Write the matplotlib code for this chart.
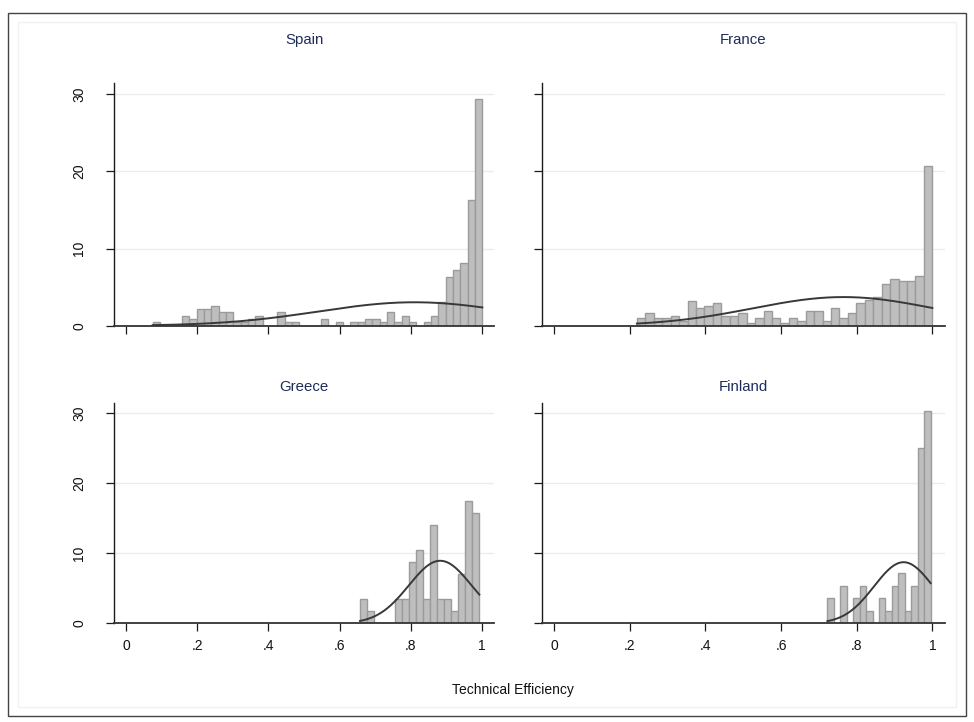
import numpy as np
import matplotlib

matplotlib.use("Agg")
import matplotlib.pyplot as plt
from matplotlib.patches import Rectangle

plt.rcParams["font.family"] = ["Liberation Sans", "DejaVu Sans"]

W, H = 974, 722

countries = ["Spain", "France", "Greece", "Finland"]

# histogram bins: first edge, bin width, percent of firms per bin
spain_start, spain_width = 0.075, 0.02056
spain_pct = [0.43, 0, 0, 0, 1.3, 0.87, 2.17, 2.17, 2.6, 1.74, 1.74, 0.43, 0.43, 0.87, 1.3,
             0, 0, 1.74, 0.43, 0.43, 0, 0, 0, 0.87, 0, 0.43, 0, 0.43, 0.43, 0.87,
             0.87, 0.43, 1.74, 0.43, 1.3, 0.43, 0, 0.43, 1.3, 3.1, 6.3, 7.2, 8.1, 16.3, 29.4]

france_start, france_width = 0.2185, 0.02233
france_pct = [0.98, 1.63, 0.98, 0.98, 1.3, 0.65, 3.25, 2.28, 2.6, 2.93, 1.3, 1.3, 1.6, 0.3,
              0.95, 1.95, 0.95, 0.3, 0.95, 0.65, 1.95, 1.95, 0.65, 2.29, 0.95, 1.6, 2.99,
              3.33, 3.68, 5.41, 6.06, 5.76, 5.76, 6.45, 20.7]

greece_start, greece_width = 0.657, 0.0197
greece_pct = [3.5, 1.75, 0, 0, 0, 3.5, 3.5, 8.8, 10.5, 3.5, 14.0, 3.5, 3.5, 1.75, 7.0, 17.5, 15.8]

finland_start, finland_width = 0.7225, 0.01706
finland_pct = [3.56, 0, 5.34, 0, 3.56, 5.34, 1.78, 0, 3.56, 1.78, 5.34, 7.14, 1.78, 5.34, 25.0, 30.3]

# normal overlay: mean and sd of technical efficiency
normal_mean = [0.81, 0.765, 0.882, 0.924]
normal_sd = [0.27, 0.24, 0.088, 0.078]

x_ticks = [0, 0.2, 0.4, 0.6, 0.8, 1.0]
x_tick_labels = ["0", ".2", ".4", ".6", ".8", "1"]
y_ticks = [0, 10, 20, 30]

hists = [
    (spain_start, spain_width, spain_pct),
    (france_start, france_width, france_pct),
    (greece_start, greece_width, greece_pct),
    (finland_start, finland_width, finland_pct),
]

# panel boxes in pixels: left, top, right, bottom
boxes = [
    (114.2, 82.7, 494.0, 325.7),
    (541.8, 82.7, 944.8, 325.7),
    (114.2, 402.7, 494.0, 623.3),
    (541.8, 402.7, 944.8, 623.3),
]
title_y = [40, 40, 387, 387]

TITLE = "#1e2d5c"
BAR_FILL = "#bebebe"
BAR_EDGE = "#9b9b9b"
CURVE = "#383838"
AXIS = "#1a1a1a"
GRID = "#ececec"

fig = plt.figure(figsize=(W / 100, H / 100), dpi=100)

# outer graph frame
fig.patches.append(Rectangle((8 / W, 1 - 716 / H), 958 / W, 703 / H, transform=fig.transFigure,
                             fill=False, edgecolor="#444444", linewidth=1.0))
fig.patches.append(Rectangle((18 / W, 1 - 707 / H), 938 / W, 685 / H, transform=fig.transFigure,
                             fill=False, edgecolor="#eef2f3", linewidth=1.0))

for i, (name, (start, width, pct), box) in enumerate(zip(countries, hists, boxes)):
    left, top, right, bottom = box
    ax = fig.add_axes([left / W, 1 - bottom / H, (right - left) / W, (bottom - top) / H])
    pct = np.asarray(pct)
    edges = start + width * np.arange(len(pct))
    ax.bar(edges, pct, width=width, align="edge", color=BAR_FILL, edgecolor=BAR_EDGE,
           linewidth=1.0, zorder=2)

    xs = np.linspace(start, start + width * len(pct), 300)
    mu, sd = normal_mean[i], normal_sd[i]
    ys = 100 * width * np.exp(-0.5 * ((xs - mu) / sd) ** 2) / (sd * np.sqrt(2 * np.pi))
    ax.plot(xs, ys, color=CURVE, linewidth=1.4, zorder=3)

    ax.set_xlim(-0.033, 1.033)
    ax.set_ylim(0, 31.5)
    ax.set_xticks(x_ticks)
    ax.set_yticks(y_ticks)
    ax.yaxis.grid(True, color=GRID, linewidth=1.0)
    ax.set_axisbelow(True)
    for s in ["top", "right"]:
        ax.spines[s].set_visible(False)
    ax.spines["left"].set_color(AXIS)
    ax.spines["left"].set_linewidth(1.0)
    ax.spines["bottom"].set_color("#333333")
    ax.spines["bottom"].set_linewidth(1.3)
    ax.spines["bottom"].set_zorder(4)
    ax.tick_params(axis="both", direction="out", length=5.5, width=0.9, color=AXIS,
                   labelsize=10, labelcolor="#111111")
    ax.tick_params(axis="x", pad=6)
    ax.tick_params(axis="y", pad=14.5)

    if i >= 2:
        ax.set_xticklabels(x_tick_labels)
    else:
        ax.set_xticklabels([])
    if i % 2 == 0:
        ax.set_yticklabels([str(t) for t in y_ticks], rotation=90, va="center")
    else:
        ax.set_yticklabels([])

    fig.text((left + right) / 2 / W, 1 - title_y[i] / H, name, ha="center", va="center",
             fontsize=10.8, color=TITLE)

fig.text(513 / W, 1 - 690 / H, "Technical Efficiency", ha="center", va="center",
         fontsize=10, color="#111111")

fig.savefig("out.png", dpi=100, facecolor="white")
